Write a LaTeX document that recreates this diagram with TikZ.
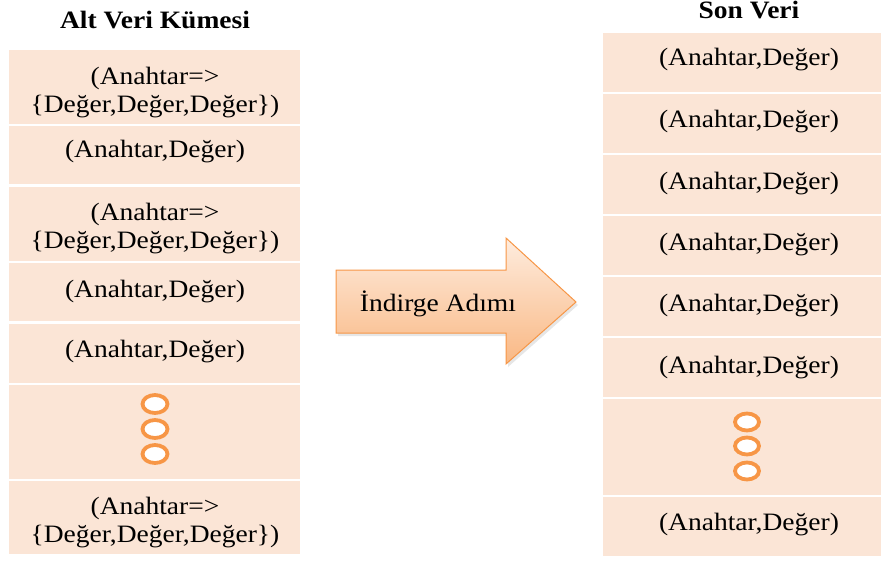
\documentclass[tikz,border=0pt]{standalone}
\usepackage{fontspec}
\setmainfont{Liberation Serif}[FakeStretch=1.1]
\usetikzlibrary{shadows}
\definecolor{rowfill}{RGB}{251,229,214}
\definecolor{dotorange}{RGB}{247,150,70}
\definecolor{arrowtop}{RGB}{254,236,222}
\definecolor{arrowbot}{RGB}{249,184,132}
\definecolor{arrowline}{RGB}{247,150,70}
\begin{document}
\begin{tikzpicture}[x=1pt,y=-1pt,
  rowbox/.style={fill=rowfill,draw=none,inner sep=0pt,anchor=north west},
  lrow/.style={rowbox,minimum width=291pt},
  rrow/.style={rowbox,minimum width=278pt},
  txt/.style={inner sep=0pt,anchor=base,font=\fontsize{25}{28}\selectfont},
  ttl/.style={txt,font=\fontsize{25}{28}\selectfont\bfseries},
  dot/.style={draw=dotorange,fill=white,line width=3.8pt}]
\useasboundingbox (0,0) rectangle (881,560);
% titles
\node[ttl] (tL) at (155,28) {Alt Veri Kümesi};
\node[ttl] (tR) at (749,18) {Son Veri};
% left column rows
\node[lrow,minimum height=74pt] (L1) at (9,50) {};
\node[lrow,minimum height=58pt] (L2) at (9,126) {};
\node[lrow,minimum height=74pt] (L3) at (9,187) {};
\node[lrow,minimum height=58pt] (L4) at (9,263) {};
\node[lrow,minimum height=59pt] (L5) at (9,324) {};
\node[lrow,minimum height=94pt] (L6) at (9,385) {};
\node[lrow,minimum height=73pt] (L7) at (9,481) {};
% left texts
\node[txt] (L1a) at (155,84) {(Anahtar=>};
\node[txt] (L1b) at (155,112) {\{Değer,Değer,Değer\})};
\node[txt] (L2a) at (155,157) {(Anahtar,Değer)};
\node[txt] (L3a) at (155,220) {(Anahtar=>};
\node[txt] (L3b) at (155,248) {\{Değer,Değer,Değer\})};
\node[txt] (L4a) at (155,297) {(Anahtar,Değer)};
\node[txt] (L5a) at (155,357) {(Anahtar,Değer)};
\node[txt] (L7a) at (155,514) {(Anahtar=>};
\node[txt] (L7b) at (155,542) {\{Değer,Değer,Değer\})};
% left dots
\draw[dot] (155,404) ellipse [x radius=12.5pt, y radius=9pt];
\draw[dot] (155,429) ellipse [x radius=12.5pt, y radius=9pt];
\draw[dot] (155,454) ellipse [x radius=12.5pt, y radius=9pt];
% right column rows
\node[rrow,minimum height=59pt] (R1) at (603,33) {};
\node[rrow,minimum height=59pt] (R2) at (603,94) {};
\node[rrow,minimum height=59pt] (R3) at (603,155) {};
\node[rrow,minimum height=59pt] (R4) at (603,216) {};
\node[rrow,minimum height=59pt] (R5) at (603,277) {};
\node[rrow,minimum height=59pt] (R6) at (603,338) {};
\node[rrow,minimum height=96pt] (R7) at (603,399) {};
\node[rrow,minimum height=59pt] (R8) at (603,497) {};
% right texts
\node[txt] (R1a) at (749,65) {(Anahtar,Değer)};
\node[txt] (R2a) at (749,127) {(Anahtar,Değer)};
\node[txt] (R3a) at (749,189) {(Anahtar,Değer)};
\node[txt] (R4a) at (749,250) {(Anahtar,Değer)};
\node[txt] (R5a) at (749,311) {(Anahtar,Değer)};
\node[txt] (R6a) at (749,373) {(Anahtar,Değer)};
\node[txt] (R8a) at (749,530) {(Anahtar,Değer)};
% right dots
\draw[dot] (747,422) ellipse [x radius=12pt, y radius=8.5pt];
\draw[dot] (747,446) ellipse [x radius=12pt, y radius=8.5pt];
\draw[dot] (747,471) ellipse [x radius=12pt, y radius=8.5pt];
% block arrow
\path[top color=arrowtop,bottom color=arrowbot,draw=arrowline,line width=1pt,
  drop shadow={opacity=0.2,shadow xshift=2pt,shadow yshift=-3pt}]
  (336,270) -- (506,270) -- (506,238) -- (576,302) -- (506,364) -- (506,333) -- (336,333) -- cycle;
\node[txt] (A1) at (438,311) {İndirge Adımı};
\end{tikzpicture}
\end{document}
